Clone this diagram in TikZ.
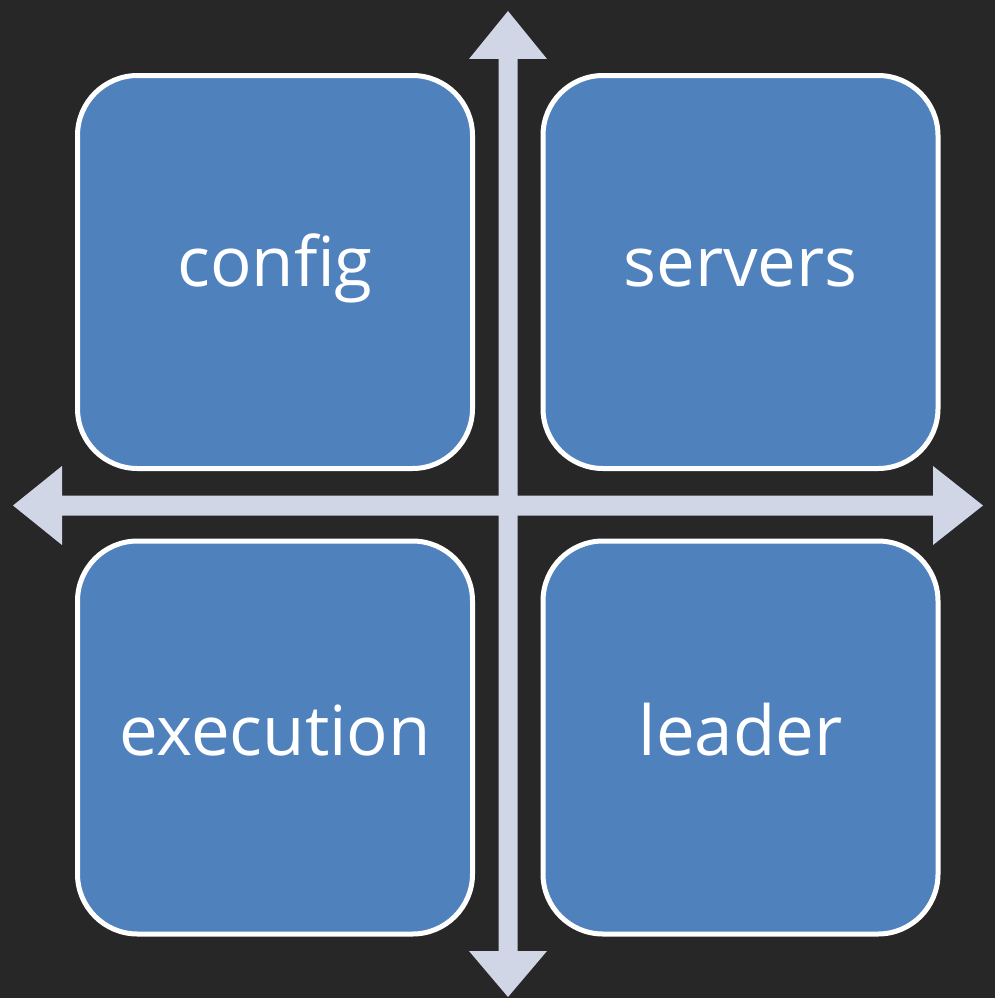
\documentclass[tikz,border=0pt]{standalone}
\usepackage{fontspec}
\setmainfont{Open Sans}
\definecolor{bg}{HTML}{272727}
\definecolor{boxblue}{HTML}{4F81BD}
\definecolor{axis}{HTML}{D0D6E6}
\begin{document}
\begin{tikzpicture}[x=1pt,y=-1pt,
  quad/.style={draw=white, line width=5pt, fill=boxblue, rounded corners=60pt,
    minimum width=395pt, minimum height=393pt, inner sep=0pt,
    text=white, font=\fontsize{69}{80}\selectfont},
  toprow/.style={text height=50pt, text depth=22pt},
  botrow/.style={text height=55pt, text depth=20pt},
  axisfill/.style={fill=axis, draw=none}]
\fill[bg] (0,0) rectangle (995,998);
\useasboundingbox (0,0) rectangle (995,998);
% axes
\fill[axisfill] (498.5,59) -- (469,59) -- (508,11) -- (547,59) -- (517.5,59)
  -- (517.5,951) -- (547,951) -- (508,997) -- (469,951) -- (498.5,951) -- cycle;
\fill[axisfill] (62,495.5) -- (62,466) -- (13,505.5) -- (62,545) -- (62,515.5)
  -- (933,515.5) -- (933,545) -- (983,505.5) -- (933,466) -- (933,495.5) -- cycle;
% boxes
\node[quad, toprow] (config) at (275,272) {config};
\node[quad, toprow] (servers) at (740.5,272) {servers};
\node[quad, botrow] (execution) at (275,737.5) {execution};
\node[quad, botrow] (leader) at (740.5,737.5) {leader};
\end{tikzpicture}
\end{document}
